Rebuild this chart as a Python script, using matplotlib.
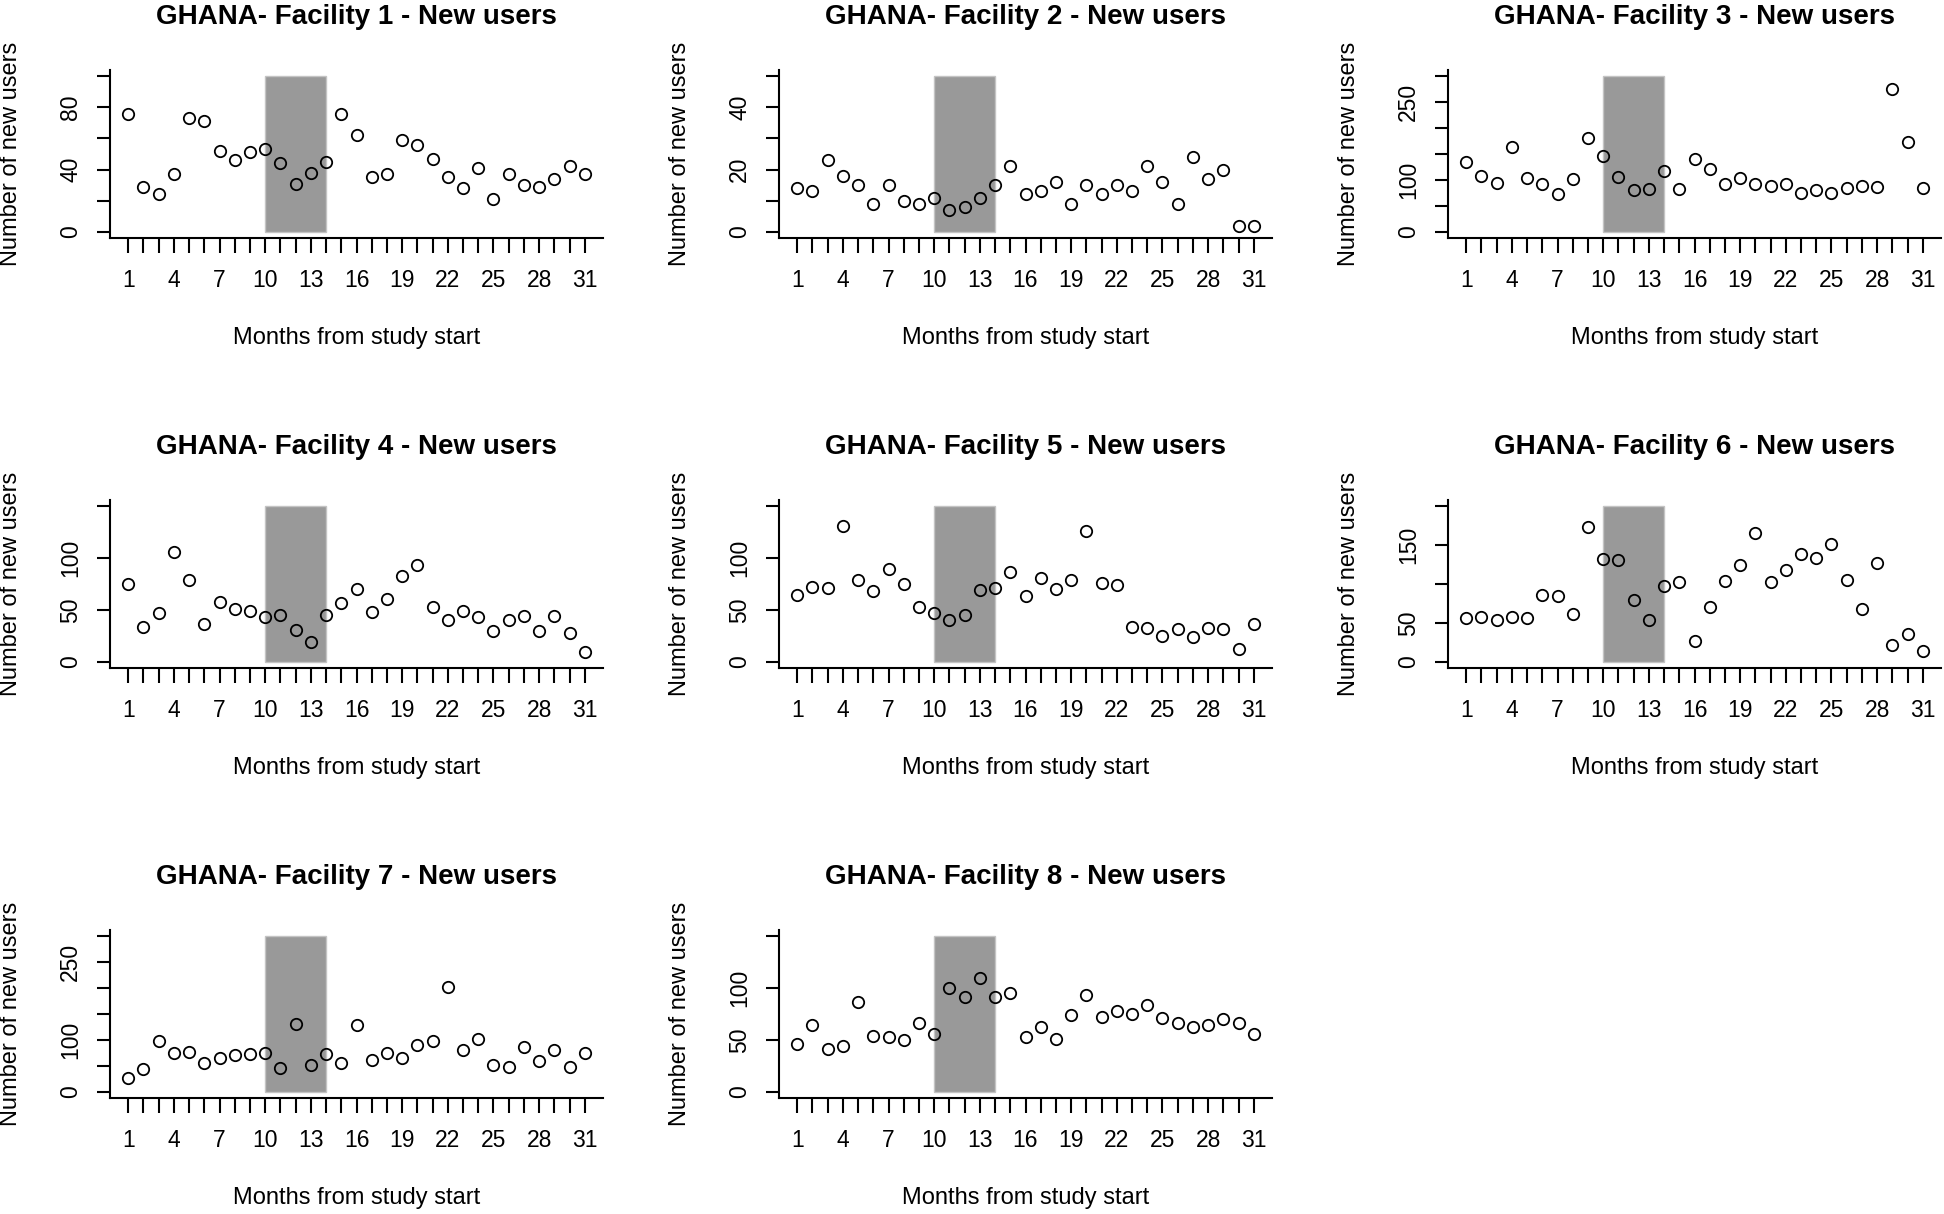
import matplotlib
matplotlib.use("Agg")
import matplotlib.pyplot as plt
from matplotlib.patches import Rectangle

plt.rcParams['font.family'] = ['Liberation Sans', 'DejaVu Sans']

months = list(range(1, 32))
month_labels = [str(m) if (m - 1) % 3 == 0 else "" for m in months]

# months of the shaded period
shade_start = 10
shade_end = 14

facility_1 = [76, 29, 24, 37, 73, 71, 52, 46, 51, 53, 44, 31, 38, 45, 76, 62,
              35, 37, 59, 56, 47, 35, 28, 41, 21, 37, 30, 29, 34, 42, 37]
facility_2 = [14, 13, 23, 18, 15, 9, 15, 10, 9, 11, 7, 8, 11, 15, 21, 12,
              13, 16, 9, 15, 12, 15, 13, 21, 16, 9, 24, 17, 20, 2, 2]
facility_3 = [135, 108, 95, 163, 103, 93, 72, 101, 181, 147, 106, 80, 82, 117, 83, 140,
              121, 93, 103, 93, 88, 93, 74, 80, 75, 85, 89, 87, 276, 173, 85]
facility_4 = [75, 34, 47, 106, 79, 36, 58, 51, 49, 43, 45, 31, 19, 45, 57, 70,
              48, 61, 83, 93, 53, 40, 49, 43, 30, 40, 44, 30, 44, 28, 9]
facility_5 = [64, 72, 71, 131, 79, 68, 89, 75, 53, 47, 40, 45, 69, 71, 87, 63,
              81, 70, 79, 126, 76, 74, 34, 33, 25, 32, 24, 33, 32, 12, 36]
facility_6 = [56, 57, 54, 58, 56, 86, 85, 61, 173, 132, 131, 79, 54, 97, 103, 27,
              71, 104, 125, 166, 102, 118, 139, 133, 151, 105, 68, 127, 21, 36, 14]
facility_7 = [26, 44, 97, 74, 76, 56, 66, 71, 72, 75, 46, 131, 52, 72, 56, 129,
              61, 75, 66, 90, 98, 203, 80, 102, 52, 48, 86, 60, 80, 47, 75]
facility_8 = [46, 64, 41, 44, 87, 54, 53, 50, 66, 56, 100, 91, 110, 91, 95, 53,
              62, 51, 74, 93, 72, 78, 75, 84, 71, 66, 62, 64, 70, 66, 56]

facilities = [facility_1, facility_2, facility_3, facility_4,
              facility_5, facility_6, facility_7, facility_8]
y_max = [100, 50, 300, 150, 150, 200, 300, 150]
y_step = [20, 10, 50, 50, 50, 50, 50, 50]
y_shown = [[0, 40, 80], [0, 20, 40], [0, 100, 250], [0, 50, 100],
           [0, 50, 100], [0, 50, 150], [0, 100, 250], [0, 50, 100]]

# panel frames in pixels (left, top) of a 1944x1214 figure
W, H = 1944, 1214
col_left = [110, 779, 1448]
box_w = 493
row_top = [70, 500, 930]
box_h = 168


def plot_facility(ax, values, ymax, ystep, shown, title):
    ax.add_patch(Rectangle((shade_start, 0), shade_end - shade_start, ymax,
                           facecolor="#999999", edgecolor="#c4c4c4", linewidth=1, zorder=1))
    ax.plot(months, values, linestyle="none", marker="o", markersize=8.2,
            markerfacecolor="none", markeredgecolor="black", markeredgewidth=1.3, zorder=3)

    ax.set_xlim(1 - 1.2, 31 + 1.2)
    ax.set_ylim(-0.04 * ymax, 1.04 * ymax)

    ax.set_xticks(months)
    ax.set_xticklabels(month_labels)
    yt = list(range(0, ymax + 1, ystep))
    ax.set_yticks(yt)
    ax.set_yticklabels([str(v) if v in shown else "" for v in yt], rotation=90, va="center")

    for s in ["top", "right"]:
        ax.spines[s].set_visible(False)
    for s in ["left", "bottom"]:
        ax.spines[s].set_linewidth(1.5)

    ax.tick_params(axis="x", length=11, width=1.5, pad=11, labelsize=16.5)
    ax.tick_params(axis="y", length=9.5, width=1.5, pad=10.5, labelsize=16.5)

    ax.set_title(title, fontsize=20, fontweight="bold", pad=33)
    ax.set_xlabel("Months from study start", fontsize=17)
    ax.xaxis.set_label_coords(0.5, -100 / box_h)
    ax.xaxis.label.set_va("center")
    ax.set_ylabel("Number of new users", fontsize=17)
    ax.yaxis.set_label_coords(-99 / box_w, 0.5)
    ax.yaxis.label.set_va("center")


fig = plt.figure(figsize=(W / 100, H / 100), dpi=100)

for i, values in enumerate(facilities):
    r, c = divmod(i, 3)
    rect = [col_left[c] / W, 1 - (row_top[r] + box_h) / H, box_w / W, box_h / H]
    ax = fig.add_axes(rect)
    plot_facility(ax, values, y_max[i], y_step[i], y_shown[i],
                  "GHANA- Facility %d - New users" % (i + 1))

fig.savefig("out.png", dpi=100)
